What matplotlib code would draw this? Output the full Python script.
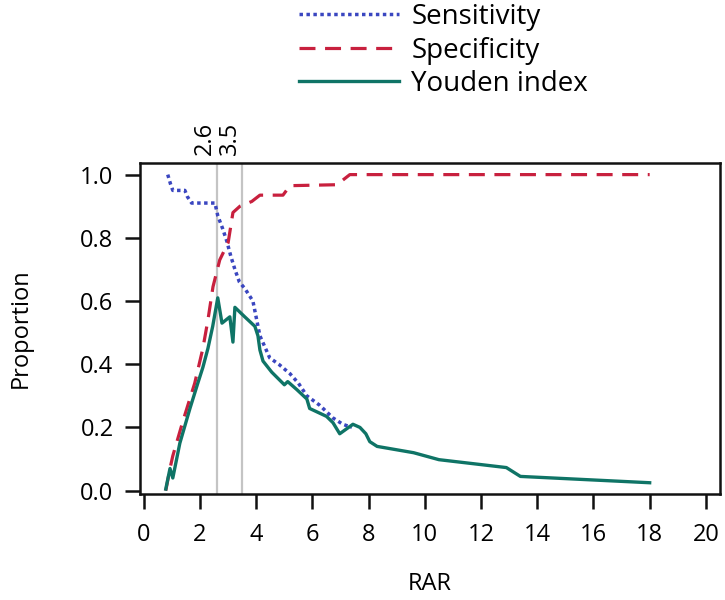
import matplotlib
matplotlib.use("Agg")
import matplotlib.pyplot as plt

plt.rcParams['font.family'] = ['Open Sans', 'DejaVu Sans']

# --- data ---
sens_x = [0.85, 0.95, 1.03, 1.46, 1.55, 1.70, 2.53, 2.63, 2.80, 2.95, 3.10, 3.24,
          3.40, 3.59, 3.88, 4.13, 4.48, 4.80, 5.20, 5.50, 5.80, 6.26, 6.73, 7.08, 7.40]
sens_y = [1.00, 0.97, 0.95, 0.95, 0.93, 0.91, 0.91, 0.87, 0.83, 0.79, 0.74, 0.70,
          0.66, 0.64, 0.60, 0.49, 0.42, 0.40, 0.37, 0.34, 0.30, 0.27, 0.23, 0.21, 0.20]

spec_x = [0.78, 0.93, 1.03, 1.39, 1.81, 2.10, 2.28, 2.46, 2.70, 3.00, 3.17, 3.42,
          3.84, 4.13, 4.95, 5.20, 6.87, 7.33, 18.0]
spec_y = [0.00, 0.07, 0.11, 0.22, 0.34, 0.45, 0.54, 0.645, 0.73, 0.785, 0.88, 0.90,
          0.915, 0.935, 0.935, 0.965, 0.968, 1.00, 1.00]

youden_x = [0.78, 0.93, 1.03, 1.28, 1.64, 1.92, 2.10, 2.28, 2.45, 2.63, 2.78, 3.06,
            3.17, 3.24, 3.59, 3.95, 4.06, 4.13, 4.24, 4.55, 5.00, 5.12, 5.44, 5.80,
            5.90, 6.50, 6.73, 6.97, 7.44, 7.69, 7.90, 8.04, 8.30, 9.60, 10.5, 12.9,
            13.4, 18.0]
youden_y = [0.005, 0.07, 0.04, 0.15, 0.26, 0.34, 0.39, 0.45, 0.52, 0.61, 0.53, 0.55,
            0.47, 0.58, 0.55, 0.52, 0.49, 0.445, 0.41, 0.375, 0.335, 0.345, 0.32, 0.29,
            0.26, 0.235, 0.215, 0.18, 0.21, 0.20, 0.18, 0.155, 0.14, 0.12, 0.098, 0.073,
            0.045, 0.025]

cutoffs = [2.6, 3.5]
cutoff_labels = ["2.6", "3.5"]

x_ticks = list(range(0, 21, 2))
y_ticks = [0.0, 0.2, 0.4, 0.6, 0.8, 1.0]

# --- plot ---
fig = plt.figure(figsize=(7.25, 6), dpi=100)
ax = fig.add_axes([0.193, 0.177, 0.800, 0.552])

for c in cutoffs:
    ax.axvline(c, color='#c4c4c4', lw=1.6, zorder=1)

l1, = ax.plot(sens_x, sens_y, color='#3a46c0', lw=2.5, ls=(0, (1, 1.0)),
              label='Sensitivity', zorder=3)
l2, = ax.plot(spec_x, spec_y, color='#c8203e', lw=2.3, ls=(0, (5, 3)),
              label='Specificity', zorder=3)
l3, = ax.plot(youden_x, youden_y, color='#0f7466', lw=2.4, label='Youden index',
              zorder=4)

ax.set_xlim(-0.14, 20.5)
ax.set_ylim(-0.01, 1.038)
ax.set_xticks(x_ticks)
ax.set_yticks(y_ticks)
ax.set_yticklabels([f"{v:.1f}" for v in y_ticks])
ax.tick_params(axis='both', direction='out', length=11, width=1.8, labelsize=17,
               color='#111111')
ax.tick_params(axis='x', pad=10)
ax.tick_params(axis='y', pad=8)
for s in ax.spines.values():
    s.set_linewidth(1.8)
    s.set_color('#111111')

ax.set_xlabel('RAR', fontsize=17, labelpad=18)
ax.set_ylabel('Proportion', fontsize=17, labelpad=34)

for c, t in zip(cutoffs, cutoff_labels):
    ax.text(c, 1.022, t, rotation=90, ha='right', va='bottom', fontsize=17,
            transform=ax.get_xaxis_transform())

fig.legend(handles=[l1, l2, l3], loc='upper left', bbox_to_anchor=(0.412, 0.995),
           frameon=False, fontsize=20, handlelength=3.6, handletextpad=0.45,
           labelspacing=0.2, borderpad=0, borderaxespad=0)

fig.savefig('out.png', dpi=100)
